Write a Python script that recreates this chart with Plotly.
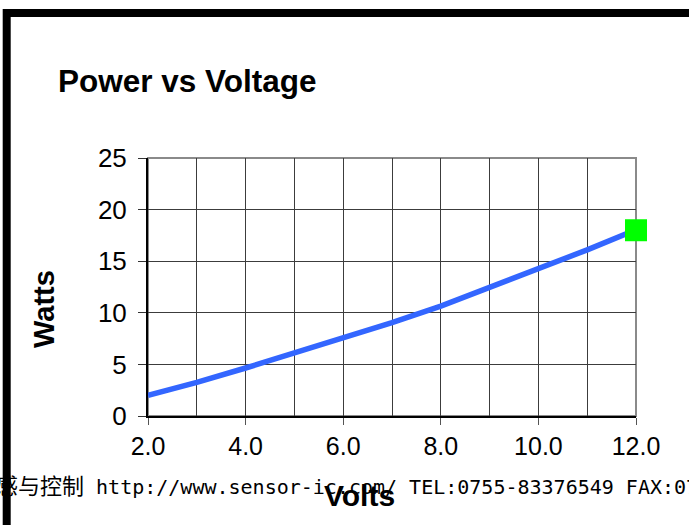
import plotly.graph_objects as go

# Data
volts = [2.0, 3.0, 4.0, 5.0, 6.0, 7.0, 8.0, 9.0, 10.0, 11.0, 12.0]
watts = [2.0, 3.25, 4.65, 6.1, 7.6, 9.05, 10.65, 12.45, 14.2, 16.1, 18.05]
marker_volts = [12.0]
marker_watts = [18.0]
x_tick_vals = [2.0, 4.0, 6.0, 8.0, 10.0, 12.0]
x_tick_text = ["2.0", "4.0", "6.0", "8.0", "10.0", "12.0"]
y_tick_vals = [0, 5, 10, 15, 20, 25]

title_text = "Power vs Voltage"
x_title = "Volts"
y_title = "Watts"
watermark = ('<span style="font-family:Noto Sans CJK SC;font-size:22px">传感与控制</span>'
             ' http://www.sensor-ic.com/ TEL:0755-83376549 FAX:0755-83376182')

W, H = 689, 525
L, R, T, B = 148, 53, 158, 109
pw, ph = W - L - R, H - T - B


def px(xpix):
    return (xpix - L) / pw


def py(ypix):
    return (H - B - ypix) / ph


fig = go.Figure()
fig.add_trace(go.Scatter(
    x=volts, y=watts, mode="lines",
    line=dict(color="#3366FF", width=5.5),
    cliponaxis=False, showlegend=False, hoverinfo="skip"))
fig.add_trace(go.Scatter(
    x=marker_volts, y=marker_watts, mode="markers",
    marker=dict(symbol="square", size=22, color="#00FF00", line=dict(width=0)),
    cliponaxis=False, showlegend=False, hoverinfo="skip"))

font = "Liberation Sans, Arial, sans-serif"
grid_col = "#3c3c3c"

fig.update_layout(
    width=W, height=H,
    margin=dict(l=L, r=R, t=T, b=B, autoexpand=False),
    paper_bgcolor="white", plot_bgcolor="white",
    title=dict(text="<b>" + title_text + "</b>", x=58 / W, xanchor="left",
               xref="container", y=1 - 81 / H, yanchor="middle", yref="container",
               font=dict(family=font, size=31.5, color="black")),
    font=dict(family=font, color="black"),
    xaxis=dict(
        range=[2, 12], tickvals=x_tick_vals, ticktext=x_tick_text,
        showgrid=True, gridcolor=grid_col, gridwidth=1,
        minor=dict(dtick=1, tick0=2, showgrid=True, gridcolor=grid_col, gridwidth=1, ticks=""),
        ticks="outside", ticklen=7, tickwidth=1, tickcolor="#555",
        showline=True, linecolor="black", linewidth=2,
        tickfont=dict(family=font, size=25, color="black"),
        ticklabelstandoff=0, zeroline=False, fixedrange=True),
    yaxis=dict(
        range=[0, 25], tickvals=y_tick_vals,
        showgrid=True, gridcolor=grid_col, gridwidth=1,
        ticks="outside", ticklen=8, tickwidth=1, tickcolor="#333",
        showline=True, linecolor="black", linewidth=2,
        tickfont=dict(family=font, size=26, color="black"),
        ticklabelstandoff=6, zeroline=False, fixedrange=True),
    shapes=[
        dict(type="rect", xref="paper", yref="paper", x0=0, x1=1, y0=0, y1=1,
             line=dict(color="#8a8a8a", width=2), layer="below"),
        dict(type="rect", xref="paper", yref="paper",
             x0=px(6.7), x1=px(720), y0=py(560), y1=py(13),
             line=dict(color="black", width=8), fillcolor="rgba(0,0,0,0)", layer="above"),
    ],
    annotations=[
        dict(text="<b>" + y_title + "</b>", xref="paper", yref="paper",
             x=px(44), y=py(309), textangle=-90, showarrow=False,
             xanchor="center", yanchor="middle",
             font=dict(family=font, size=29, color="black")),
        dict(text="<b>" + x_title + "</b>", xref="paper", yref="paper",
             x=px(359), y=py(495), showarrow=False,
             xanchor="center", yanchor="middle",
             font=dict(family=font, size=30, color="black")),
        dict(text=watermark, xref="paper", yref="paper",
             x=px(-28), y=py(484), showarrow=False,
             xanchor="left", yanchor="middle",
             font=dict(family="DejaVu Sans Mono, Noto Sans CJK SC, monospace", size=20, color="black")),
    ],
)

fig.write_html("out.html",
               config={"displayModeBar": False, "staticPlot": True},
               post_script="document.body.style.margin='0';document.body.style.padding='0';")
